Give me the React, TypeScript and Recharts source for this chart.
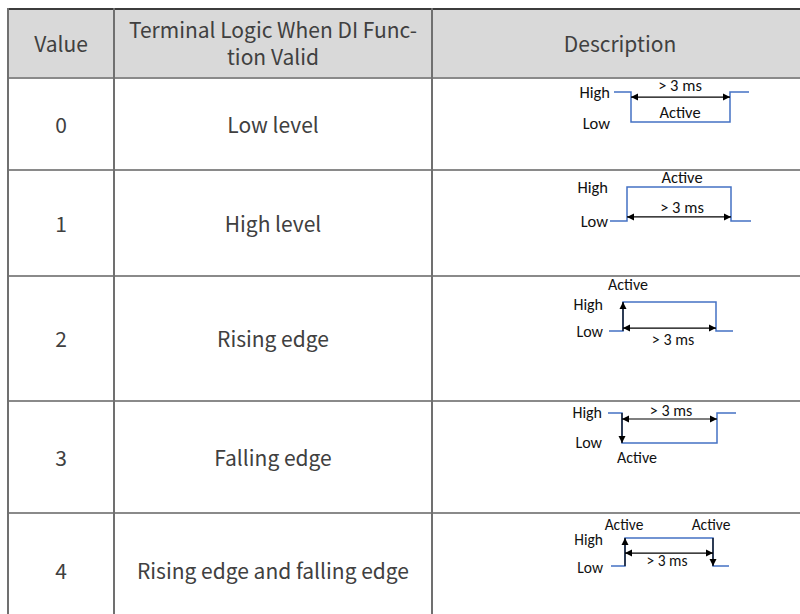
import React from 'react'
import { LineChart, Line, XAxis, YAxis, ReferenceDot } from 'recharts'

// table text
const headers = ['Value', 'Terminal Logic When DI Func-\ntion Valid', 'Description']
const values = ['0', '1', '2', '3', '4']
const logics = ['Low level', 'High level', 'Rising edge', 'Falling edge', 'Rising edge and falling edge']

// waveforms: time (t) vs level (v, 1 = High, 0 = Low)
const wave0 = [{ t: 5.4, v: 1 }, { t: 7.1, v: 1 }, { t: 7.1, v: 0 }, { t: 17.0, v: 0 }, { t: 17.0, v: 1 }, { t: 18.9, v: 1 }]
const wave1 = [{ t: 5.0, v: 0 }, { t: 6.7, v: 0 }, { t: 6.7, v: 1 }, { t: 17.1, v: 1 }, { t: 17.1, v: 0 }, { t: 19.1, v: 0 }]
const wave2 = [{ t: 4.9, v: 0 }, { t: 6.3, v: 0 }, { t: 6.3, v: 1 }, { t: 15.6, v: 1 }, { t: 15.6, v: 0 }, { t: 17.3, v: 0 }]
const wave3 = [{ t: 4.8, v: 1 }, { t: 6.2, v: 1 }, { t: 6.2, v: 0 }, { t: 15.7, v: 0 }, { t: 15.7, v: 1 }, { t: 17.6, v: 1 }]
const wave4 = [{ t: 5.1, v: 0 }, { t: 6.5, v: 0 }, { t: 6.5, v: 1 }, { t: 15.3, v: 1 }, { t: 15.3, v: 0 }, { t: 16.9, v: 0 }]

// arrows: two points, heads = which ends carry an arrowhead
const arrows0 = [{ pts: [{ t: 7.1, v: 0.83 }, { t: 17.0, v: 0.83 }], heads: [0, 1] }]
const arrows1 = [{ pts: [{ t: 6.7, v: 0.12 }, { t: 17.1, v: 0.12 }], heads: [0, 1] }]
const arrows2 = [
  { pts: [{ t: 6.3, v: 0 }, { t: 6.3, v: 1 }], heads: [1] },
  { pts: [{ t: 6.3, v: 0.1 }, { t: 15.6, v: 0.1 }], heads: [0, 1] },
]
const arrows3 = [
  { pts: [{ t: 6.2, v: 1 }, { t: 6.2, v: 0 }], heads: [1] },
  { pts: [{ t: 6.2, v: 0.8 }, { t: 15.7, v: 0.8 }], heads: [0, 1] },
]
const arrows4 = [
  { pts: [{ t: 6.5, v: 0 }, { t: 6.5, v: 1 }], heads: [1] },
  { pts: [{ t: 15.3, v: 1 }, { t: 15.3, v: 0 }], heads: [1] },
  { pts: [{ t: 6.5, v: 0.46 }, { t: 15.3, v: 0.46 }], heads: [0, 1] },
]

// labels in the diagrams
const labels0 = [
  { t: 5.0, v: 1, text: 'High', anchor: 'end' },
  { t: 5.0, v: -0.03, text: 'Low', anchor: 'end' },
  { t: 12.0, v: 1.22, text: '> 3 ms', anchor: 'middle' },
  { t: 12.0, v: 0.33, text: 'Active', anchor: 'middle' },
]
const labels1 = [
  { t: 12.2, v: 1.29, text: 'Active', anchor: 'middle' },
  { t: 4.8, v: 1, text: 'High', anchor: 'end' },
  { t: 4.8, v: 0, text: 'Low', anchor: 'end' },
  { t: 12.2, v: 0.41, text: '> 3 ms', anchor: 'middle' },
]
const labels2 = [
  { t: 6.8, v: 1.59, text: 'Active', anchor: 'middle' },
  { t: 4.3, v: 0.93, text: 'High', anchor: 'end' },
  { t: 4.3, v: 0, text: 'Low', anchor: 'end' },
  { t: 11.3, v: -0.28, text: '> 3 ms', anchor: 'middle' },
]
const labels3 = [
  { t: 4.2, v: 1.03, text: 'High', anchor: 'end' },
  { t: 4.2, v: 0.03, text: 'Low', anchor: 'end' },
  { t: 11.1, v: 1.07, text: '> 3 ms', anchor: 'middle' },
  { t: 7.7, v: -0.47, text: 'Active', anchor: 'middle' },
]
const labels4 = [
  { t: 6.4, v: 1.5, text: 'Active', anchor: 'middle' },
  { t: 15.1, v: 1.5, text: 'Active', anchor: 'middle' },
  { t: 4.3, v: 0.96, text: 'High', anchor: 'end' },
  { t: 4.3, v: -0.07, text: 'Low', anchor: 'end' },
  { t: 10.7, v: 0.18, text: '> 3 ms', anchor: 'middle' },
]

const waves = [wave0, wave1, wave2, wave3, wave4]
const arrowSets = [arrows0, arrows1, arrows2, arrows3, arrows4]
const labelSets = [labels0, labels1, labels2, labels3, labels4]

// layout
const colX = [8, 114, 432, 808]
const rowY = [78, 170, 276, 401, 513, 627]
const diagBox = [
  { top: 62, height: 90, font: 16.5 },
  { top: 153, height: 102, font: 16.5 },
  { top: 273, height: 87, font: 16 },
  { top: 383, height: 90, font: 16 },
  { top: 510, height: 84, font: 15.5 },
]
const BLUE = '#4472C4'
const LINE = '#8a8a8a'
const TXT = '#404040'

function headFor(pts, heads) {
  return (props) => {
    const { cx, cy, index, payload } = props
    if (!heads.includes(index) || cx == null) return <g key={`n${index}`} />
    const o = pts[index === 0 ? 1 : 0]
    const dx = Math.sign(payload.t - o.t)
    const dy = -Math.sign(payload.v - o.v)
    const L = 7, W = 3.5
    const bx = cx - dx * L, by = cy - dy * L
    const px = -dy * W, py = dx * W
    return (
      <path key={`h${index}`} d={`M${cx},${cy}L${bx + px},${by + py}L${bx - px},${by - py}Z`} fill="#000" />
    )
  }
}

function Diagram({ i }) {
  const box = diagBox[i]
  return (
    <div style={{ position: 'absolute', left: 560, top: box.top, width: 200, height: box.height }}>
      <LineChart width={200} height={box.height} margin={{ top: 0, right: 0, bottom: 0, left: 0 }}>
        <XAxis type="number" dataKey="t" domain={[0, 20]} hide />
        <YAxis type="number" domain={[-1, 2]} hide />
        <Line data={waves[i]} dataKey="v" type="linear" stroke={BLUE} strokeWidth={1.5}
          dot={false} activeDot={false} isAnimationActive={false} />
        {arrowSets[i].map((a, k) => (
          <Line key={k} data={a.pts} dataKey="v" type="linear" stroke="#000" strokeWidth={1.2}
            dot={headFor(a.pts, a.heads)} activeDot={false} isAnimationActive={false} />
        ))}
        {labelSets[i].map((l, k) => (
          <ReferenceDot key={k} x={l.t} y={l.v} r={0}
            shape={(p) => (
              <text x={p.cx} y={p.cy} textAnchor={l.anchor} dominantBaseline="central"
                fontFamily='Carlito, "Liberation Sans", Arial, sans-serif' fontSize={box.font} fill="#111">
                {l.text}
              </text>
            )} />
        ))}
      </LineChart>
    </div>
  )
}

export default function App() {
  const cellText = (x0, x1, y0, y1, text, size) => (
    <div style={{
      position: 'absolute', left: x0, top: y0, width: x1 - x0, height: y1 - y0,
      display: 'flex', alignItems: 'center', justifyContent: 'center', textAlign: 'center',
      fontSize: size, lineHeight: '27px', whiteSpace: 'pre-line',
    }}>{text}</div>
  )
  return (
    <div style={{
      position: 'relative', width: 800, height: 614, overflow: 'hidden', background: '#fff',
      fontFamily: '"Noto Sans CJK SC", "Noto Sans", sans-serif', color: TXT,
    }}>
      <style>{'html,body{margin:0;overflow:hidden}'}</style>
      <div style={{ position: 'absolute', left: 8, top: 8, width: 800, height: 70, background: '#d9d9d9' }} />
      {headers.map((h, c) => <React.Fragment key={c}>{cellText(colX[c], colX[c + 1], 8, 78, h, 21)}</React.Fragment>)}
      {values.map((v, r) => <React.Fragment key={r}>{cellText(colX[0], colX[1], rowY[r], rowY[r + 1], v, 21)}</React.Fragment>)}
      {logics.map((v, r) => <React.Fragment key={r}>{cellText(colX[1], colX[2], rowY[r], rowY[r + 1], v, 21)}</React.Fragment>)}
      {/* grid lines */}
      <div style={{ position: 'absolute', left: 8, top: 8, width: 800, height: 2, background: '#3c3c3c' }} />
      {rowY.slice(0, 5).map((y) => (
        <div key={y} style={{ position: 'absolute', left: 8, top: y - 1, width: 800, height: 2, background: LINE }} />
      ))}
      {colX.slice(0, 3).map((x) => (
        <div key={x} style={{ position: 'absolute', left: x - 1, top: 8, width: 2, height: 620, background: '#707070' }} />
      ))}
      {values.map((_, i) => <Diagram key={i} i={i} />)}
    </div>
  )
}
